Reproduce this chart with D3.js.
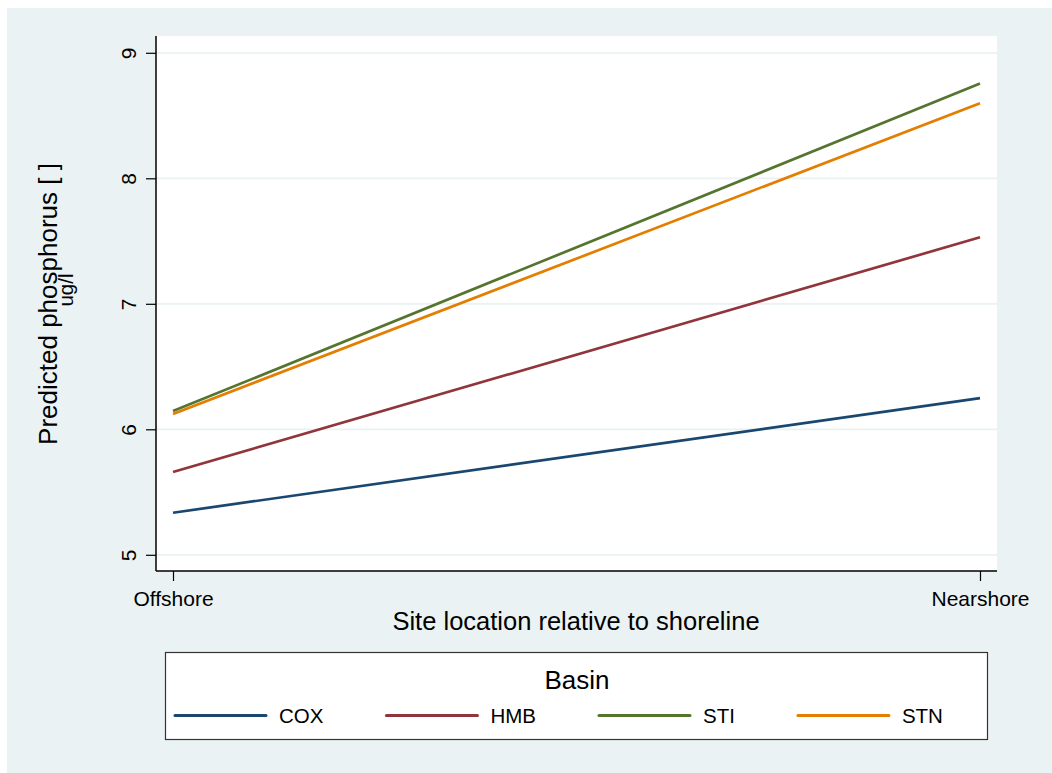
<!DOCTYPE html>
<html>
<head>
<meta charset="utf-8">
<script src="https://cdn.jsdelivr.net/npm/d3@7"></script>
<style>
  body { margin: 0; background: #fff; }
  svg text { font-family: "Liberation Sans", Arial, sans-serif; fill: #000; }
</style>
</head>
<body>
<div id="chart"></div>
<script>
// data
const locations = ["Offshore", "Nearshore"];
const basins = ["COX", "HMB", "STI", "STN"];
const coxValues = [5.335, 6.248];
const hmbValues = [5.66, 7.53];
const stiValues = [6.145, 8.755];
const stnValues = [6.122, 8.598];
const yTicks = [5, 6, 7, 8, 9];

const seriesValues = [coxValues, hmbValues, stiValues, stnValues];
const colors = ["#1a476f", "#90353b", "#55752f", "#e37e00"];

const width = 1052;
const height = 773;

const svg = d3.select("#chart").append("svg")
    .attr("width", width)
    .attr("height", height);

// graph region (stata light bluish gray)
svg.append("rect")
    .attr("x", 7).attr("y", 8)
    .attr("width", width - 7).attr("height", height - 8)
    .attr("fill", "#eaf2f3");

// plot region
const plot = { left: 156, right: 997, top: 36, bottom: 571 };
svg.append("rect")
    .attr("x", plot.left).attr("y", plot.top)
    .attr("width", plot.right - plot.left)
    .attr("height", plot.bottom - plot.top)
    .attr("fill", "#fff");

const x = d3.scalePoint()
    .domain(locations)
    .range([173, 980]);

const y = d3.scaleLinear()
    .domain([5, 9])
    .range([554.8, 52.8]);

// gridlines
svg.append("g")
    .selectAll("line")
    .data(yTicks)
    .join("line")
    .attr("x1", plot.left).attr("x2", plot.right)
    .attr("y1", d => y(d)).attr("y2", d => y(d))
    .attr("stroke", "#eaf2f3")
    .attr("stroke-width", 1.8);

// y axis
const yAxis = svg.append("g")
    .attr("transform", `translate(${plot.left},0)`)
    .call(d3.axisLeft(y).tickValues(yTicks).tickFormat(d3.format("d"))
        .tickSize(10).tickPadding(8).tickSizeOuter(0));
yAxis.select(".domain").remove();
yAxis.append("line")
    .attr("y1", plot.top).attr("y2", plot.bottom)
    .attr("stroke", "#000").attr("stroke-width", 1.5);
yAxis.selectAll(".tick line").attr("stroke", "#000").attr("stroke-width", 1.2);
yAxis.selectAll(".tick text")
    .attr("x", null).attr("dy", null)
    .attr("transform", "translate(-20,0) rotate(-90)")
    .attr("text-anchor", "middle")
    .style("font-size", "21px");

// x axis
const xAxis = svg.append("g")
    .attr("transform", `translate(0,${plot.bottom})`)
    .call(d3.axisBottom(x).tickSize(10).tickPadding(6).tickSizeOuter(0));
xAxis.select(".domain").remove();
xAxis.append("line")
    .attr("x1", plot.left).attr("x2", plot.right)
    .attr("stroke", "#000").attr("stroke-width", 1.5);
xAxis.selectAll(".tick line").attr("stroke", "#000").attr("stroke-width", 1.2);
xAxis.selectAll(".tick text")
    .attr("dy", null).attr("y", 35)
    .style("font-size", "21px");

// axis titles
svg.append("text")
    .attr("x", 576).attr("y", 630)
    .attr("text-anchor", "middle")
    .style("font-size", "25.5px")
    .text("Site location relative to shoreline");

const yTitle = svg.append("g");
yTitle.append("text")
    .attr("transform", "translate(57,304) rotate(-90)")
    .attr("text-anchor", "middle")
    .style("font-size", "26px")
    .text("Predicted phosphorus [ ]");
yTitle.append("text")
    .attr("transform", "translate(73,290) rotate(-90)")
    .attr("text-anchor", "middle")
    .style("font-size", "20.5px")
    .text("ug/l");

// series lines
const line = d3.line()
    .x((d, i) => x(locations[i]))
    .y(d => y(d));

svg.append("g")
    .selectAll("path")
    .data(seriesValues)
    .join("path")
    .attr("d", line)
    .attr("fill", "none")
    .attr("stroke", (d, i) => colors[i])
    .attr("stroke-width", 2.7);

// legend
const legend = svg.append("g");
legend.append("rect")
    .attr("x", 165.5).attr("y", 652.5)
    .attr("width", 822).attr("height", 87)
    .attr("fill", "#fff")
    .attr("stroke", "#333")
    .attr("stroke-width", 1.2);

legend.append("text")
    .attr("x", 577).attr("y", 689)
    .attr("text-anchor", "middle")
    .style("font-size", "26px")
    .text("Basin");

let keyX = 175;
basins.forEach((b, i) => {
    legend.append("line")
        .attr("x1", keyX).attr("x2", keyX + 91)
        .attr("y1", 715.5).attr("y2", 715.5)
        .attr("stroke", colors[i])
        .attr("stroke-width", 3)
        .attr("stroke-linecap", "round");
    const label = legend.append("text")
        .attr("x", keyX + 104).attr("y", 723)
        .style("font-size", "20.5px")
        .text(b);
    keyX = keyX + 104 + label.node().getComputedTextLength() + 63;
});
</script>
</body>
</html>
